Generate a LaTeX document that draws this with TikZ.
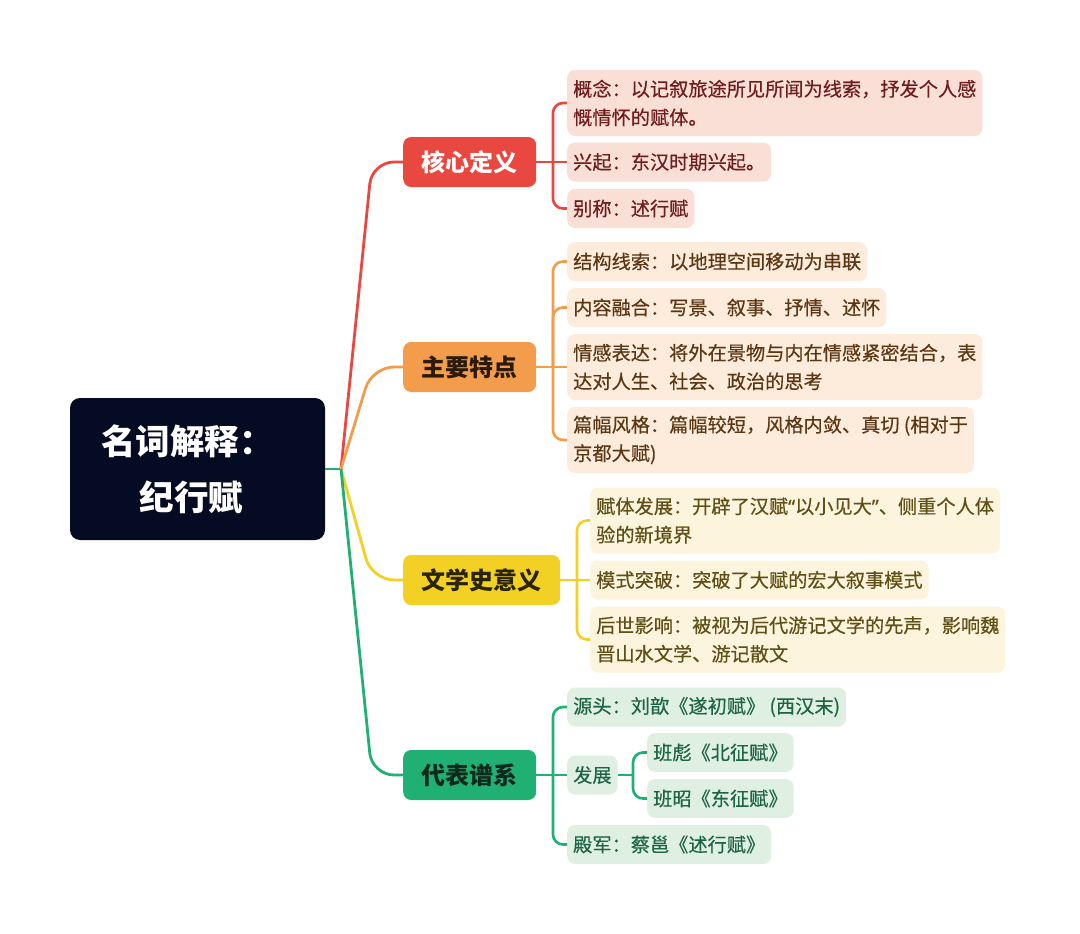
\documentclass[tikz,border=0pt]{standalone}
\usepackage{fontspec}
\setmainfont{Noto Sans CJK SC}
\newfontfamily\leaffont{Noto Sans CJK SC}[FakeBold=0.35]
\newfontfamily\latq{Noto Sans}[FakeBold=0.35]
\definecolor{rootc}{HTML}{060B24}
\definecolor{redc}{HTML}{E84840}
\definecolor{redf}{HTML}{FADFD6}
\definecolor{redt}{HTML}{6E1C1C}
\definecolor{orac}{HTML}{F39C4B}
\definecolor{oraf}{HTML}{FDEBDC}
\definecolor{orat}{HTML}{5B3613}
\definecolor{orak}{HTML}{2A1A0A}
\definecolor{yelc}{HTML}{F2D124}
\definecolor{yelf}{HTML}{FCF4DC}
\definecolor{yelt}{HTML}{5F4E16}
\definecolor{yelk}{HTML}{2A2308}
\definecolor{grec}{HTML}{20B073}
\definecolor{gref}{HTML}{DFF0E3}
\definecolor{gret}{HTML}{1C6443}
\definecolor{grek}{HTML}{0F2A1C}
\begin{document}
\begin{tikzpicture}[x=1pt,y=-1pt,
  rootbox/.style={fill=rootc, text=white, rounded corners=10pt, minimum width=255pt, minimum height=142pt, inner sep=0pt, align=center, font=\fontsize{34.5}{56}\selectfont\bfseries},
  mainbox/.style={rounded corners=8pt, minimum height=50pt, inner xsep=18.5pt, inner ysep=0pt, anchor=west, font=\fontsize{24}{28}\selectfont\bfseries},
  leaf/.style={rounded corners=8pt, inner xsep=6pt, inner ysep=0pt, anchor=west, align=left, font=\fontsize{19.2}{28.5}\selectfont\leaffont},
  one/.style={minimum height=39pt},
  two/.style={minimum height=66pt},
  conn/.style={line width=2.8pt, rounded corners=22pt},
  brk/.style={line width=2.6pt, rounded corners=10pt}
]
\useasboundingbox[fill=white] (0,0) rectangle (1080,934);

% root
\node[rootbox] (root) at (197.5,469) {名词解释：\kern20pt\\纪行赋\kern12pt};
\coordinate (j) at (341,469);
\coordinate (elb) at (372,0);

% main nodes
\node[mainbox, fill=redc, text=white] (core) at (403,162) {核心定义};
\node[mainbox, fill=orac, text=orak] (feat) at (403,367) {主要特点};
\node[mainbox, fill=yelc, text=yelk] (sig) at (403,580) {文学史意义};
\node[mainbox, fill=grec, text=grek] (rep) at (403,775) {代表谱系};

% red leaves
\node[leaf, two, fill=redf, text=redt] (c1) at (567,103) {概念：以记叙旅途所见所闻为线索，抒发个人感\\慨情怀的赋体。};
\node[leaf, one, fill=redf, text=redt] (c2) at (567,162) {兴起：东汉时期兴起。};
\node[leaf, one, fill=redf, text=redt] (c3) at (567,208.5) {别称：述行赋};

% orange leaves
\node[leaf, one, fill=oraf, text=orat] (f1) at (567,261.5) {结构线索：以地理空间移动为串联};
\node[leaf, one, fill=oraf, text=orat] (f2) at (567,307.5) {内容融合：写景、叙事、抒情、述怀};
\node[leaf, two, fill=oraf, text=orat] (f3) at (567,367) {情感表达：将外在景物与内在情感紧密结合，表\\达对人生、社会、政治的思考};
\node[leaf, two, fill=oraf, text=orat] (f4) at (567,440) {篇幅风格：篇幅较短，风格内敛、真切 (相对于\\京都大赋)};

% yellow leaves
\node[leaf, two, fill=yelf, text=yelt] (s1) at (590,520.5) {赋体发展：开辟了汉赋{\latq “}以小见大{\latq ”}、侧重个人体\\验的新境界};
\node[leaf, one, fill=yelf, text=yelt] (s2) at (590,580) {模式突破：突破了大赋的宏大叙事模式};
\node[leaf, two, fill=yelf, text=yelt] (s3) at (590,639.5) {后世影响：被视为后代游记文学的先声，影响魏\\晋山水文学、游记散文};

% green leaves
\node[leaf, one, fill=gref, text=gret] (r1) at (567,707) {源头：刘歆《遂初赋》 (西汉末)};
\node[leaf, one, fill=gref, text=gret] (r2) at (567,775) {发展};
\node[leaf, one, fill=gref, text=gret] (r21) at (647,752.5) {班彪《北征赋》};
\node[leaf, one, fill=gref, text=gret] (r22) at (647,798.5) {班昭《东征赋》};
\node[leaf, one, fill=gref, text=gret] (r3) at (567,844.5) {殿军：蔡邕《述行赋》};

% root connectors
\draw[grec, line width=2.8pt] (root.east |- j) -- (j);
\draw[conn, redc] (j) -- (elb |- core.west) -- (core.west);
\draw[conn, orac] (j) -- (elb |- feat.west) -- (feat.west);
\draw[conn, yelc] (j) -- (elb |- sig.west) -- (sig.west);
\draw[conn, grec] (j) -- (elb |- rep.west) -- (rep.west);

% brackets
\coordinate (bx) at (553,0);
\coordinate (by) at (577,0);
\coordinate (bz) at (633,0);
% red
\draw[brk, redc] (core.east) -- (c2.west);
\draw[brk, redc] (bx |- core.east) -- (bx |- c1.west) -- (c1.west);
\draw[brk, redc] (bx |- core.east) -- (bx |- c3.west) -- (c3.west);
% orange
\draw[brk, orac] (feat.east) -- (f3.west);
\foreach \c in {f1,f2}
  \draw[brk, orac] (bx |- feat.east) -- (bx |- \c.west) -- (\c.west);
\draw[brk, orac] (bx |- feat.east) -- (bx |- f4.west) -- (f4.west);
% yellow
\draw[brk, yelc] (sig.east) -- (s2.west);
\foreach \c in {s1,s3}
  \draw[brk, yelc] (by |- sig.east) -- (by |- \c.west) -- (\c.west);
% green
\draw[brk, grec] (rep.east) -- (r2.west);
\foreach \c in {r1,r3}
  \draw[brk, grec] (bx |- rep.east) -- (bx |- \c.west) -- (\c.west);
\draw[brk, grec] (r2.east) -- (bz |- r2.east);
\foreach \c in {r21,r22}
  \draw[brk, grec] (bz |- r2.east) -- (bz |- \c.west) -- (\c.west);
\end{tikzpicture}
\end{document}
